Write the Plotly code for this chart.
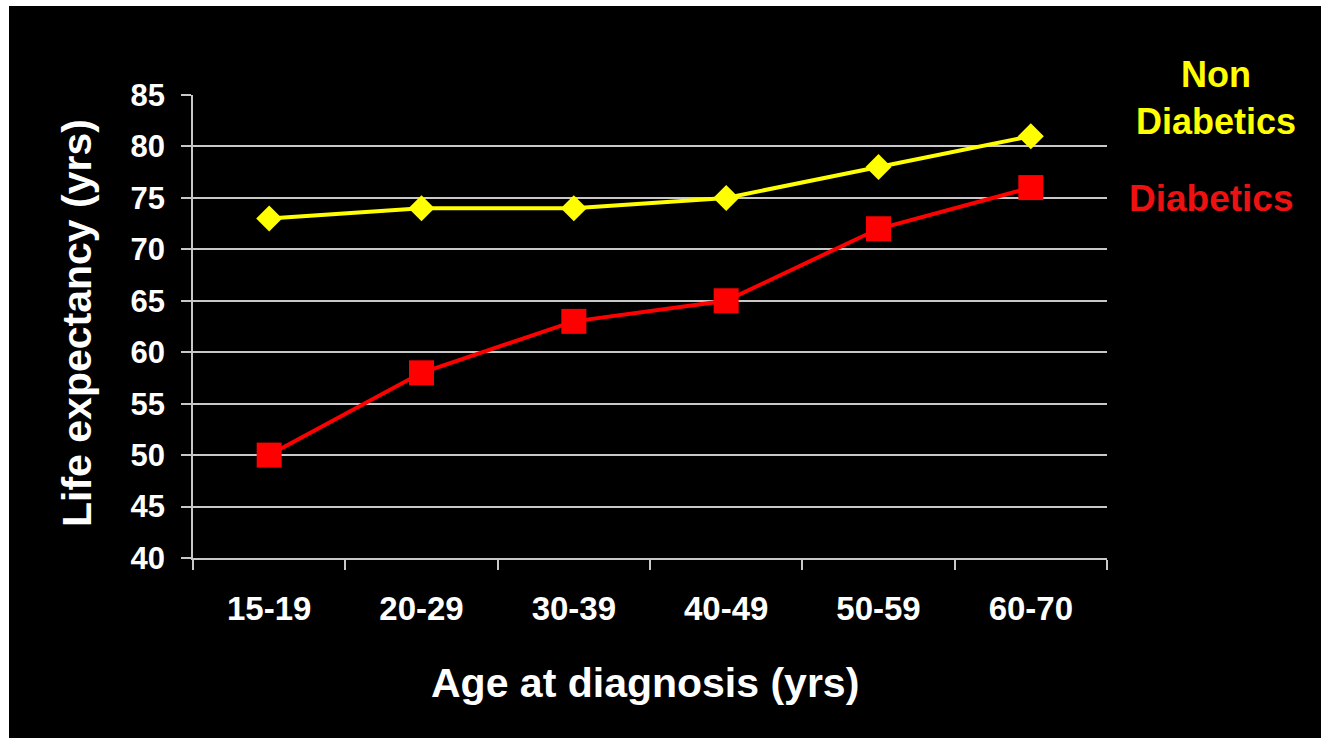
import plotly.graph_objects as go

categories = ["15-19", "20-29", "30-39", "40-49", "50-59", "60-70"]
non_diabetics = [73, 74, 74, 75, 78, 81]
diabetics = [50, 58, 63, 65, 72, 76]
y_ticks = [40, 45, 50, 55, 60, 65, 70, 75, 80, 85]

FONT = "Liberation Sans, Arial, sans-serif"
YEL = "#ffff00"
RED = "#ff0000"
GRID = "#c8c8c8"

W, H = 1321, 738
L, R, T, B = 193, 214, 95, 180
pw, ph = W - L - R, H - T - B

def px_x(x):
    return (x - L) / pw

def px_y(y):
    return (H - B - y) / ph

fig = go.Figure()
fig.add_trace(go.Scatter(
    x=categories, y=non_diabetics, mode="lines+markers", name="Non Diabetics",
    line=dict(color=YEL, width=4),
    marker=dict(symbol="diamond", size=20, color=YEL),
))
fig.add_trace(go.Scatter(
    x=categories, y=diabetics, mode="lines+markers", name="Diabetics",
    line=dict(color=RED, width=4),
    marker=dict(symbol="square", size=25, color=RED),
))

def ann(text, x, y, size, color, angle=0):
    return dict(text=text, xref="paper", yref="paper", x=px_x(x), y=px_y(y),
                xanchor="center", yanchor="middle", textangle=angle,
                showarrow=False, align="center",
                font=dict(family=FONT, size=size, color=color, weight="bold"))

fig.update_layout(
    width=W, height=H,
    margin=dict(l=L, r=R, t=T, b=B, pad=0),
    paper_bgcolor="white",
    plot_bgcolor="rgba(0,0,0,0)",
    showlegend=False,
    font=dict(family=FONT, color="white", weight="bold"),
    shapes=[dict(
        type="rect", xref="paper", yref="paper", layer="below",
        x0=px_x(9), x1=px_x(W + 5), y0=px_y(H + 5), y1=px_y(6),
        fillcolor="black", line=dict(width=0),
    )],
    xaxis=dict(
        type="category", tickson="boundaries",
        ticks="outside", ticklen=10, tickcolor=GRID, tickwidth=1.5,
        showline=True, linecolor=GRID, linewidth=1.5,
        showgrid=False, zeroline=False,
        tickfont=dict(family=FONT, size=33, color="white", weight="bold"),
        ticklabelstandoff=21,
        range=[-0.5, 5.5],
    ),
    yaxis=dict(
        range=[40, 85], tickvals=y_ticks,
        ticks="outside", ticklen=10, tickcolor=GRID, tickwidth=1.5,
        showline=True, linecolor=GRID, linewidth=1.5,
        showgrid=True, gridcolor=GRID, gridwidth=1.5,
        zeroline=False,
        tickfont=dict(family=FONT, size=31, color="white", weight="bold"),
        ticklabelstandoff=10,
    ),
    annotations=[
        ann("Age at diagnosis (yrs)", 645, 683, 41, "white"),
        ann("Life expectancy (yrs)", 77, 323, 41, "white", -90),
        ann("Non<br>Diabetics", 1216, 98, 36, YEL),
        ann("Diabetics", 1211, 198, 37, "#ee1111"),
    ],
)

fig.write_html("out.html")
